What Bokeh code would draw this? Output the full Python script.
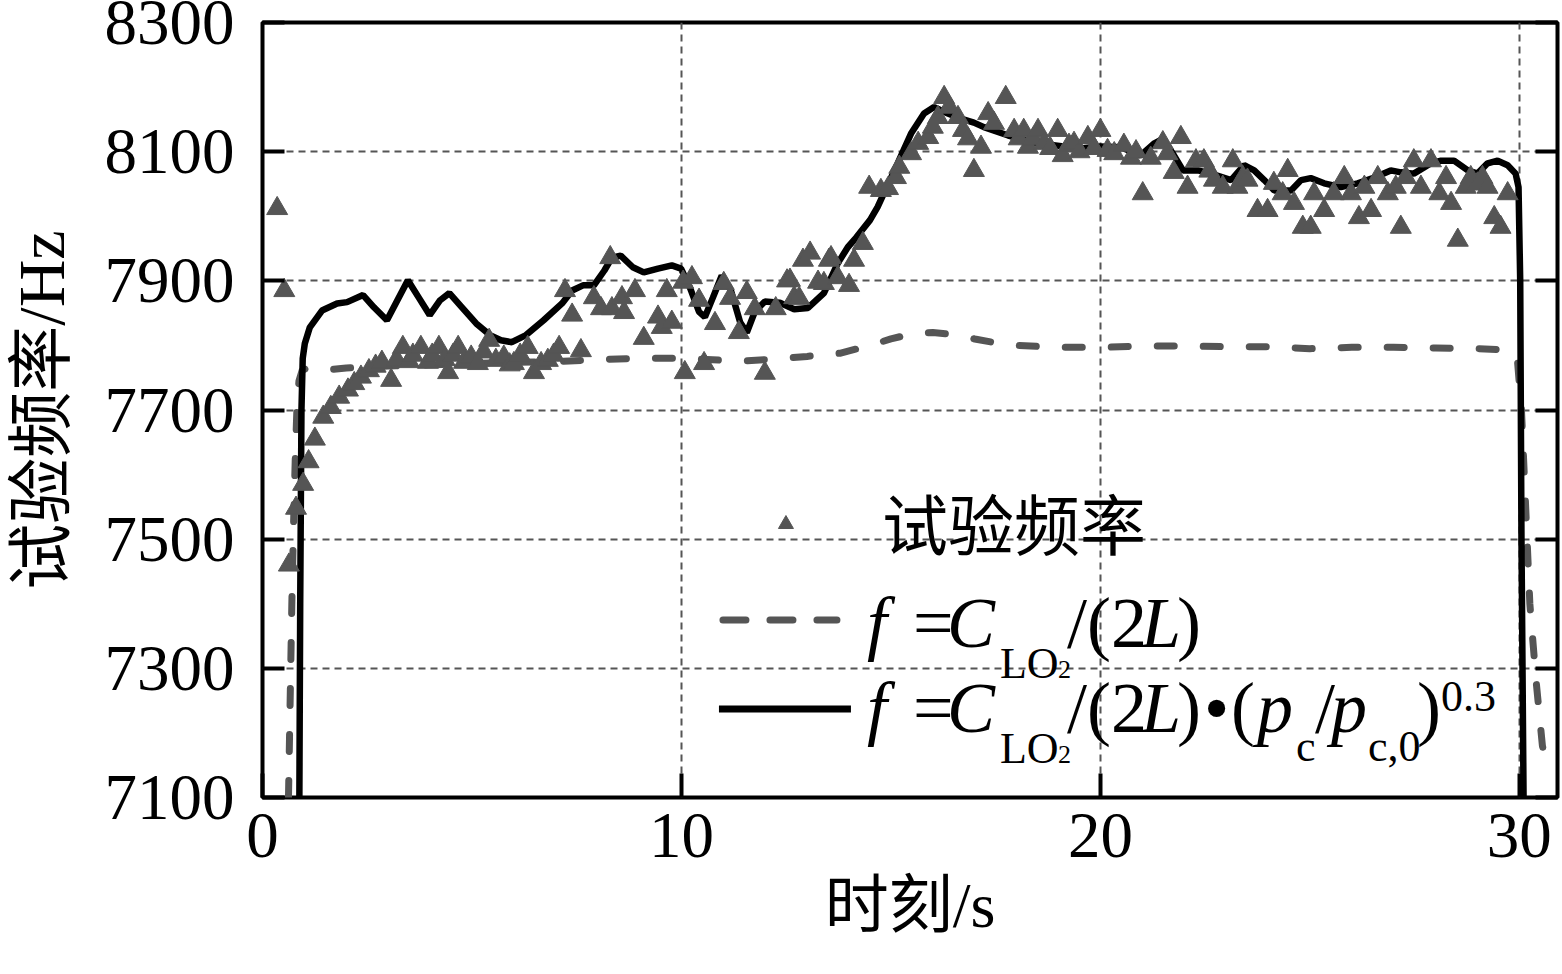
from bokeh.plotting import figure
from bokeh.models import Label, LinearAxis, FixedTicker, CustomJSTickFormatter, Range1d
from bokeh.embed import file_html
from bokeh.resources import INLINE

# ---------------- data ----------------
x_ticks = [0, 10, 20, 30]
y_ticks = [7100, 7300, 7500, 7700, 7900, 8100, 8300]

# 试验频率 (measured)
t_test = [0.35, 0.52, 0.63, 0.8, 0.97, 1.1, 1.25, 1.45, 1.63, 1.83, 2.04, 2.19, 2.35, 2.54, 2.7, 2.85,
          3.07, 3.2, 3.35, 3.5, 3.59, 3.78, 3.95, 4.05, 4.21, 4.35, 4.43, 4.55, 4.67, 4.81, 4.98, 5.14,
          5.28, 5.41, 5.57, 5.76, 5.9, 6.0, 6.15, 6.33, 6.48, 6.65, 6.81, 6.95, 7.08, 7.22, 7.39, 7.6,
          7.91, 8.08, 8.3, 8.34, 8.58, 8.63, 8.89, 9.1, 9.44, 9.53, 9.65, 9.77, 10.04, 10.08, 10.25, 10.42,
          10.54, 10.8, 11.01, 11.16, 11.37, 11.56, 11.75, 11.99, 12.25, 12.52, 12.59, 12.69, 12.81, 12.9,
          13.07, 13.26, 13.4, 13.52, 13.57, 13.73, 14.0, 14.12, 14.33, 14.48, 14.76, 14.93, 15.12, 15.2,
          15.48, 15.65, 15.89, 16.0, 16.12, 16.27, 16.39, 16.6, 16.72, 16.84, 16.98, 17.15, 17.32, 17.46,
          17.74, 17.94, 18.05, 18.17, 18.27, 18.4, 18.51, 18.66, 18.8, 18.98, 19.1, 19.25, 19.37, 19.5,
          19.7, 19.85, 20.0, 20.17, 20.33, 20.56, 20.73, 20.85, 21.01, 21.2, 21.49, 21.6, 21.75, 21.92,
          22.08, 22.28, 22.47, 22.6, 22.71, 22.92, 23.16, 23.27, 23.4, 23.51, 23.75, 23.99, 24.14, 24.35,
          24.47, 24.62, 24.83, 25.02, 25.1, 25.34, 25.57, 25.82, 25.98, 26.17, 26.3, 26.46, 26.62, 26.86,
          27.05, 27.17, 27.29, 27.48, 27.65, 27.89, 28.09, 28.25, 28.37, 28.53, 28.72, 28.84, 29.0, 29.12,
          29.24, 29.4, 29.55, 29.72]
f_test = [8012, 7885, 7460, 7548, 7585, 7620, 7655, 7689, 7704, 7720, 7731, 7741, 7751, 7761, 7768, 7774,
          7746, 7778, 7797, 7775, 7785, 7797, 7774, 7785, 7797, 7778, 7758, 7785, 7797, 7774, 7782, 7772,
          7790, 7808, 7777, 7782, 7770, 7772, 7785, 7797, 7758, 7772, 7777, 7785, 7797, 7885, 7847, 7792,
          7874, 7857, 7936, 7857, 7874, 7851, 7885, 7811, 7844, 7828, 7885, 7836, 7898, 7758, 7905, 7870,
          7772, 7834, 7896, 7873, 7820, 7882, 7857, 7757, 7857, 7900, 7901, 7874, 7873, 7932,
          7943, 7898, 7896, 7932, 7936, 7905, 7893, 7932, 7958, 8045, 8040, 8043, 8060, 8076,
          8097, 8113, 8122, 8138, 8153, 8184, 8169, 8153, 8133, 8120, 8071, 8107, 8159, 8144,
          8184, 8133, 8120, 8133, 8107, 8120, 8133, 8113, 8105, 8133, 8094, 8110, 8113, 8100,
          8122, 8105, 8133, 8102, 8097, 8110, 8090, 8100, 8035, 8090, 8114, 8097, 8068, 8122,
          8045, 8086, 8086, 8070, 8056, 8045, 8086, 8045, 8060, 8056, 8009, 8009, 8051, 8035,
          8071, 8020, 7983, 7983, 8035, 8009, 8035, 8060, 8035, 7998, 8045, 8009, 8060, 8035,
          8045, 7983, 8060, 8086, 8045, 8086, 8035, 8060, 8020, 7963, 8045, 8060, 8050, 8060,
          8045, 7998, 7983, 8035]

# f = C_LO2/(2L)
t_base = [0.62, 0.66, 0.7, 0.74, 0.78, 0.82, 0.87, 0.95, 1.1, 1.5, 2.0, 3.0, 4.0, 5.0, 6.0, 7.0, 8.0,
          9.0, 10.0, 11.0, 11.5, 12.0, 13.0, 13.8, 14.5, 15.0, 15.5, 16.0, 16.5, 17.0, 17.5, 18.0, 19.0,
          20.0, 21.0, 22.0, 23.0, 24.0, 25.0, 26.0, 27.0, 28.0, 29.0, 29.7, 29.95, 30.05, 30.15, 30.25,
          30.4, 30.55, 30.65]
f_base = [7100, 7250, 7400, 7520, 7620, 7700, 7745, 7762, 7765, 7762, 7765, 7768, 7770, 7772, 7774, 7775,
          7778, 7780, 7780, 7777, 7776, 7778, 7783, 7788, 7800, 7810, 7818, 7820, 7817, 7810, 7804, 7800,
          7797, 7797, 7799, 7799, 7798, 7798, 7795, 7797, 7797, 7796, 7795, 7793, 7780, 7700, 7550, 7400,
          7280, 7180, 7150]

# f = C_LO2/(2L)·(pc/pc,0)^0.3
t_corr = [0.88, 0.9, 0.93, 0.96, 1.01, 1.13, 1.42, 1.78, 2.02, 2.4, 2.66, 2.97, 3.22, 3.47, 3.73, 3.99,
          4.24, 4.46, 4.76, 5.1, 5.43, 5.69, 5.95, 6.29, 6.71, 7.15, 7.39, 7.65, 7.91, 8.16, 8.34, 8.55,
          8.84, 9.1, 9.44, 9.77, 9.99, 10.2, 10.42, 10.56, 10.75, 10.96, 11.18, 11.4, 11.56, 11.75, 11.99,
          12.35, 12.69, 13.02, 13.4, 13.73, 13.97, 14.17, 14.5, 14.68, 15.16, 15.48, 15.79, 16.03, 16.36,
          16.67, 16.98, 17.22, 17.8, 18.5, 19.5, 20.0, 20.49, 20.96, 21.29, 21.49, 21.73, 21.97, 22.33,
          22.64, 23.12, 23.43, 23.67, 23.91, 24.15, 24.55, 24.79, 25.02, 25.34, 25.74, 26.14, 26.54,
          26.93, 27.17, 27.48, 27.89, 28.13, 28.44, 28.77, 29.0, 29.24, 29.48, 29.72, 29.91, 29.98,
          30.02, 30.05, 30.1]
f_corr = [7100, 7400, 7700, 7780, 7803, 7828, 7854, 7865, 7867, 7878, 7859, 7839, 7870, 7901, 7874, 7847,
          7870, 7881, 7859, 7834, 7816, 7808, 7805, 7816, 7839, 7865, 7885, 7893, 7893, 7916, 7936, 7939,
          7921, 7913, 7919, 7924, 7919, 7890, 7852, 7844, 7874, 7908, 7885, 7836, 7820, 7852, 7868,
          7866, 7856, 7858, 7881, 7927, 7952, 7967, 7994, 8014, 8082, 8128, 8159, 8169, 8159,
          8151, 8145, 8138, 8125, 8113, 8105, 8108, 8107, 8094, 8113, 8120, 8097, 8071, 8071,
          8066, 8056, 8079, 8071, 8056, 8040, 8040, 8056, 8059, 8051, 8045, 8051, 8060,
          8071, 8068, 8066, 8082, 8086, 8086, 8071, 8066, 8082, 8086, 8079, 8066, 8045,
          7900, 7500, 7100]

# ---------------- figure ----------------
SERIF = "Liberation Serif"
CJK = "Liberation Serif, Noto Sans CJK SC"

p = figure(width=1560, height=972, x_range=Range1d(0, 30.91), y_range=Range1d(7100, 8300),
           output_backend="svg", toolbar_location=None,
           min_border_left=262, min_border_right=3, min_border_top=22, min_border_bottom=175)
p.background_fill_color = "white"
p.border_fill_color = "white"
p.outline_line_color = "black"
p.outline_line_width = 4

for ax in (p.xaxis[0], p.yaxis[0]):
    ax.axis_line_color = None
    ax.major_tick_out = 0
    ax.major_tick_line_width = 4
    ax.major_tick_line_color = "black"
    ax.minor_tick_line_color = None
    ax.major_label_text_font = SERIF
    ax.major_label_text_font_size = "65px"
    ax.major_label_text_color = "black"
    ax.axis_label_text_font = CJK
    ax.axis_label_text_font_style = "normal"
    ax.axis_label_text_color = "black"

p.xaxis.ticker = FixedTicker(ticks=x_ticks)
p.yaxis.ticker = FixedTicker(ticks=y_ticks)
p.xaxis.major_tick_in = 24
p.yaxis.major_tick_in = 22
p.xaxis.major_label_standoff = 16
p.yaxis.major_label_standoff = 28
p.yaxis.axis_label = "试验频率/Hz"
p.yaxis.axis_label_text_font_size = "66px"
p.yaxis.axis_label_standoff = 24
p.xaxis.axis_label = "时刻/s"
p.xaxis.axis_label_text_font_size = "64px"
p.xaxis.axis_label_standoff = 10

right = LinearAxis(ticker=FixedTicker(ticks=y_ticks),
                   formatter=CustomJSTickFormatter(code="return ''"),
                   axis_line_color=None, major_tick_in=22, major_tick_out=0,
                   major_tick_line_width=4, major_tick_line_color="black",
                   minor_tick_line_color=None, major_label_standoff=0)
p.add_layout(right, "right")

p.xgrid.ticker = FixedTicker(ticks=[t for t in x_ticks if t != 0])
p.ygrid.ticker = FixedTicker(ticks=[v for v in y_ticks if v not in (7100, 8300)])
for g in (p.xgrid[0], p.ygrid[0]):
    g.grid_line_color = "#555555"
    g.grid_line_width = 2
    g.grid_line_dash = "7 5"

GRAY = "#555555"
p.line(t_base, f_base, line_color=GRAY, line_width=7, line_dash="17 29", line_cap="round")
p.line(t_corr, f_corr, line_color="black", line_width=6.5)
p.scatter(t_test, f_test, marker="triangle", size=21, fill_color=GRAY, line_color=GRAY, line_width=1)


# ---------------- legend (placed by picture pixels) ----------------
def X(px):
    return (px - 261.5) / 41.9


def Y(py):
    return 8300 - (py - 22) * 1.5474


def txt(s, px, py, size=72, style="normal", font=SERIF):
    p.add_layout(Label(x=X(px), y=Y(py), text=s, text_font=font, text_font_size=f"{size}px",
                       text_font_style=style, text_color="black", text_baseline="alphabetic",
                       text_align="left"))


p.scatter([X(785)], [Y(524)], marker="triangle", size=15, fill_color=GRAY, line_color=GRAY)
p.line([X(722), X(836)], [Y(620), Y(620)], line_color=GRAY, line_width=7, line_dash="23 24", line_cap="round")
p.line([X(718), X(850)], [Y(709), Y(709)], line_color="black", line_width=7)

txt("试验频率", 881, 521, size=66, font="Noto Sans CJK SC")

for base, sub, full in ((623, 663, False), (708, 748, True)):
    txt("f", 866, base, style="italic")
    txt("=", 912, base)
    txt("C", 946, base, style="italic")
    txt("LO", 999, sub, size=44)
    txt("2", 1057, sub + 6, size=26)
    txt("/(2", 1066, base)
    txt("L", 1140, base, style="italic")
    txt(")", 1176, base)
    if full:
        txt("•", 1203, base)
        txt("(", 1230, base)
        txt("p", 1256, base, style="italic")
        txt("c", 1295, sub - 2, size=44)
        txt("/", 1314, base)
        txt("p", 1330, base, style="italic")
        txt("c,0", 1367, sub - 2, size=44)
        txt(")", 1416, base)
        txt("0.3", 1440, base - 12, size=44)

open("out.html", "w").write(file_html(p, INLINE))
